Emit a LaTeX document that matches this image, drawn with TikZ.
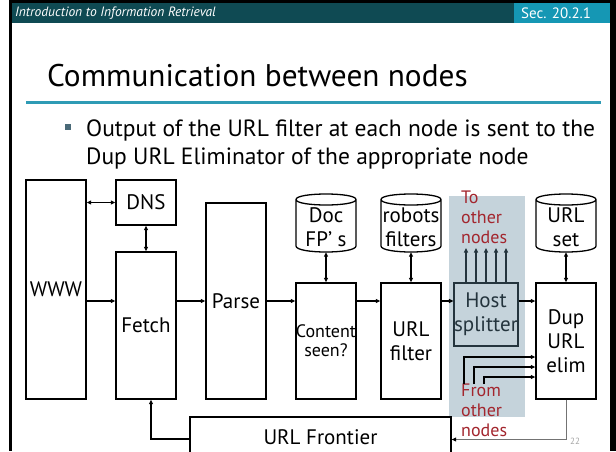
\documentclass[tikz,border=0pt]{standalone}
\usepackage{fontspec}
\setmainfont{PT Sans}
\usetikzlibrary{arrows.meta}
\definecolor{hdark}{HTML}{0F4A53}
\definecolor{hlight}{HTML}{1597B4}
\definecolor{rulec}{HTML}{2E9BB5}
\definecolor{shadecol}{HTML}{C5D3DB}
\definecolor{redtxt}{HTML}{A3262E}
\definecolor{slate}{HTML}{24343D}
\definecolor{bulletc}{HTML}{4A6A78}
\newcommand{\dbshape}[4]{%
  \draw[line width=1.3pt] (#1,#3+5.5) -- (#1,#4-6)
    .. controls (#1,#4+2) and (#2,#4+2) .. (#2,#4-6) -- (#2,#3+5.5)
    .. controls (#2,#3-1.83) and (#1,#3-1.83) .. (#1,#3+5.5)
    .. controls (#1,#3+12.83) and (#2,#3+12.83) .. (#2,#3+5.5);}
\begin{document}
\begin{tikzpicture}[x=1pt,y=-1pt,
  box/.style={draw, line width=1.3pt, inner sep=0pt, align=center, minimum width=60pt,
    font=\fontsize{21}{24}\selectfont},
  dbnode/.style={inner sep=0pt, align=center, minimum width=60pt, minimum height=49pt,
    font=\fontsize{21}{24}\selectfont},
  tip/.style={-{Triangle[length=4.5pt,width=4pt]}},
  arr/.style={line width=1.1pt, tip},
  dbl/.style={line width=1.1pt, {Triangle[length=4.5pt,width=4pt]}-{Triangle[length=4.5pt,width=4pt]}},
  redt/.style={text=redtxt, align=left, anchor=north west, inner sep=0pt,
    font=\fontsize{18}{20}\selectfont}]
\useasboundingbox (0,0) rectangle (616,451);
\clip (0,0) rectangle (616,451);
\fill[white] (0,0) rectangle (616,451);
% frame
\fill[black] (9,0) rectangle (12,451);
\fill[black] (610,0) rectangle (616,451);
\fill[black] (9,0) rectangle (616,3);
\fill[hdark] (12,3) rectangle (514,22.5);
\fill[hlight] (514,3) rectangle (610,22.5);
\node[anchor=west, text=white, inner sep=0pt, font=\fontsize{13.5}{15}\selectfont\itshape] (hdr) at (15,13) {Introduction to Information Retrieval};
\node[anchor=west, text=white, inner sep=0pt, font=\fontsize{15}{17}\selectfont] (sec) at (521,13.5) {Sec. 20.2.1};
% title
\node[anchor=base west, inner sep=0pt, font=\fontsize{31.3}{36}\selectfont] (title) at (47,86) {Communication between nodes};
\fill[rulec] (26,101) rectangle (601,103.5);
\fill[bulletc] (65,124) rectangle (71,130);
\node[anchor=base west, inner sep=0pt, font=\fontsize{23.5}{28}\selectfont] (b1) at (86,136) {Output of the URL filter at each node is sent to the};
\node[anchor=base west, inner sep=0pt, font=\fontsize{23.5}{28}\selectfont] (b2) at (86,164) {Dup URL Eliminator of the appropriate node};
% shaded region
\fill[shadecol] (449,196) rectangle (525,417);
% boxes
\node[box, minimum height=219pt] (www) at (56,289.5) {WWW};
\node[box, minimum height=45pt] (dns) at (146,202.5) {DNS};
\node[box, minimum height=147pt] (fetch) at (146,325.5) {Fetch};
\node[box, minimum height=196pt] (parse) at (236,301) {Parse};
\node[box, minimum height=116pt, font=\fontsize{18}{19}\selectfont] (content) at (326,341) {Content\\seen?};
\node[box, minimum height=116pt] (urlf) at (411,341) {URL\\filter};
\node[box, minimum height=63pt, draw=slate, text=slate] (host) at (486,314.5) {Host\\splitter};
\node[box, minimum height=116pt] (dup) at (566,341) {Dup\\URL\\elim};
\node[box, minimum width=261pt, minimum height=40pt] (frontier) at (320.5,437) {URL Frontier};
% cylinders
\dbshape{296}{356}{194}{252}
\dbshape{381}{441}{194}{252}
\dbshape{536}{596}{194}{252}
\node[dbnode] (docfp) at (326,227.5) {Doc\\FP’ s};
\node[dbnode] (robots) at (411,227.5) {robots\\filters};
\node[dbnode] (urlset) at (566,227.5) {URL\\set};
% red texts
\node[redt] (tonodes) at (461,191) {To\\other\\nodes};
\node[redt] (fromnodes) at (461,384) {From\\other\\nodes};
% connectors
\draw[dbl] (www.east |- dns.west) -- (dns.west);
\draw[dbl] (dns.south) -- (fetch.north);
\draw[arr] (www.east |- parse.west) -- (fetch.west |- parse.west);
\draw[arr] (fetch.east |- parse.west) -- (parse.west);
\draw[arr] (parse.east) -- (content.west |- parse.east);
\draw[arr] (content.east |- parse.east) -- (urlf.west |- parse.east);
\draw[arr] (urlf.east |- parse.east) -- (host.west |- parse.east);
\draw[arr] (host.east |- parse.east) -- (dup.west |- parse.east);
\draw[dbl] (docfp.south) -- (content.north);
\draw[dbl] (robots.south) -- (urlf.north);
\draw[dbl] (urlset.south) -- (dup.north);
\coordinate (up1) at (466,248);
\coordinate (up2) at (476,248);
\coordinate (up3) at (486,248);
\coordinate (up4) at (496,248);
\coordinate (up5) at (506,248);
\foreach \u in {up1,up2,up3,up4,up5}
  \draw[arr, draw=slate] (\u |- host.north) -- (\u);
\coordinate (fr1) at (464,384);
\coordinate (fr2) at (474,384);
\coordinate (fr3) at (484,384);
\draw[arr] (fr1) |- (dup.west |- 0,357);
\draw[arr] (fr2) |- (dup.west |- 0,367);
\draw[arr] (fr3) |- (dup.west |- 0,377);
\draw[arr] (frontier.west |- 0,439) -| ([xshift=5pt]fetch.south);
\draw[draw=black!55, line width=1pt, -{Triangle[length=4.5pt,width=4pt,color=black]}] (dup.south) |- (frontier.east |- 0,439.5);
\node[text=gray!70, inner sep=0pt, font=\fontsize{9}{10}\selectfont] (pg) at (575,441) {22};
\end{tikzpicture}
\end{document}
